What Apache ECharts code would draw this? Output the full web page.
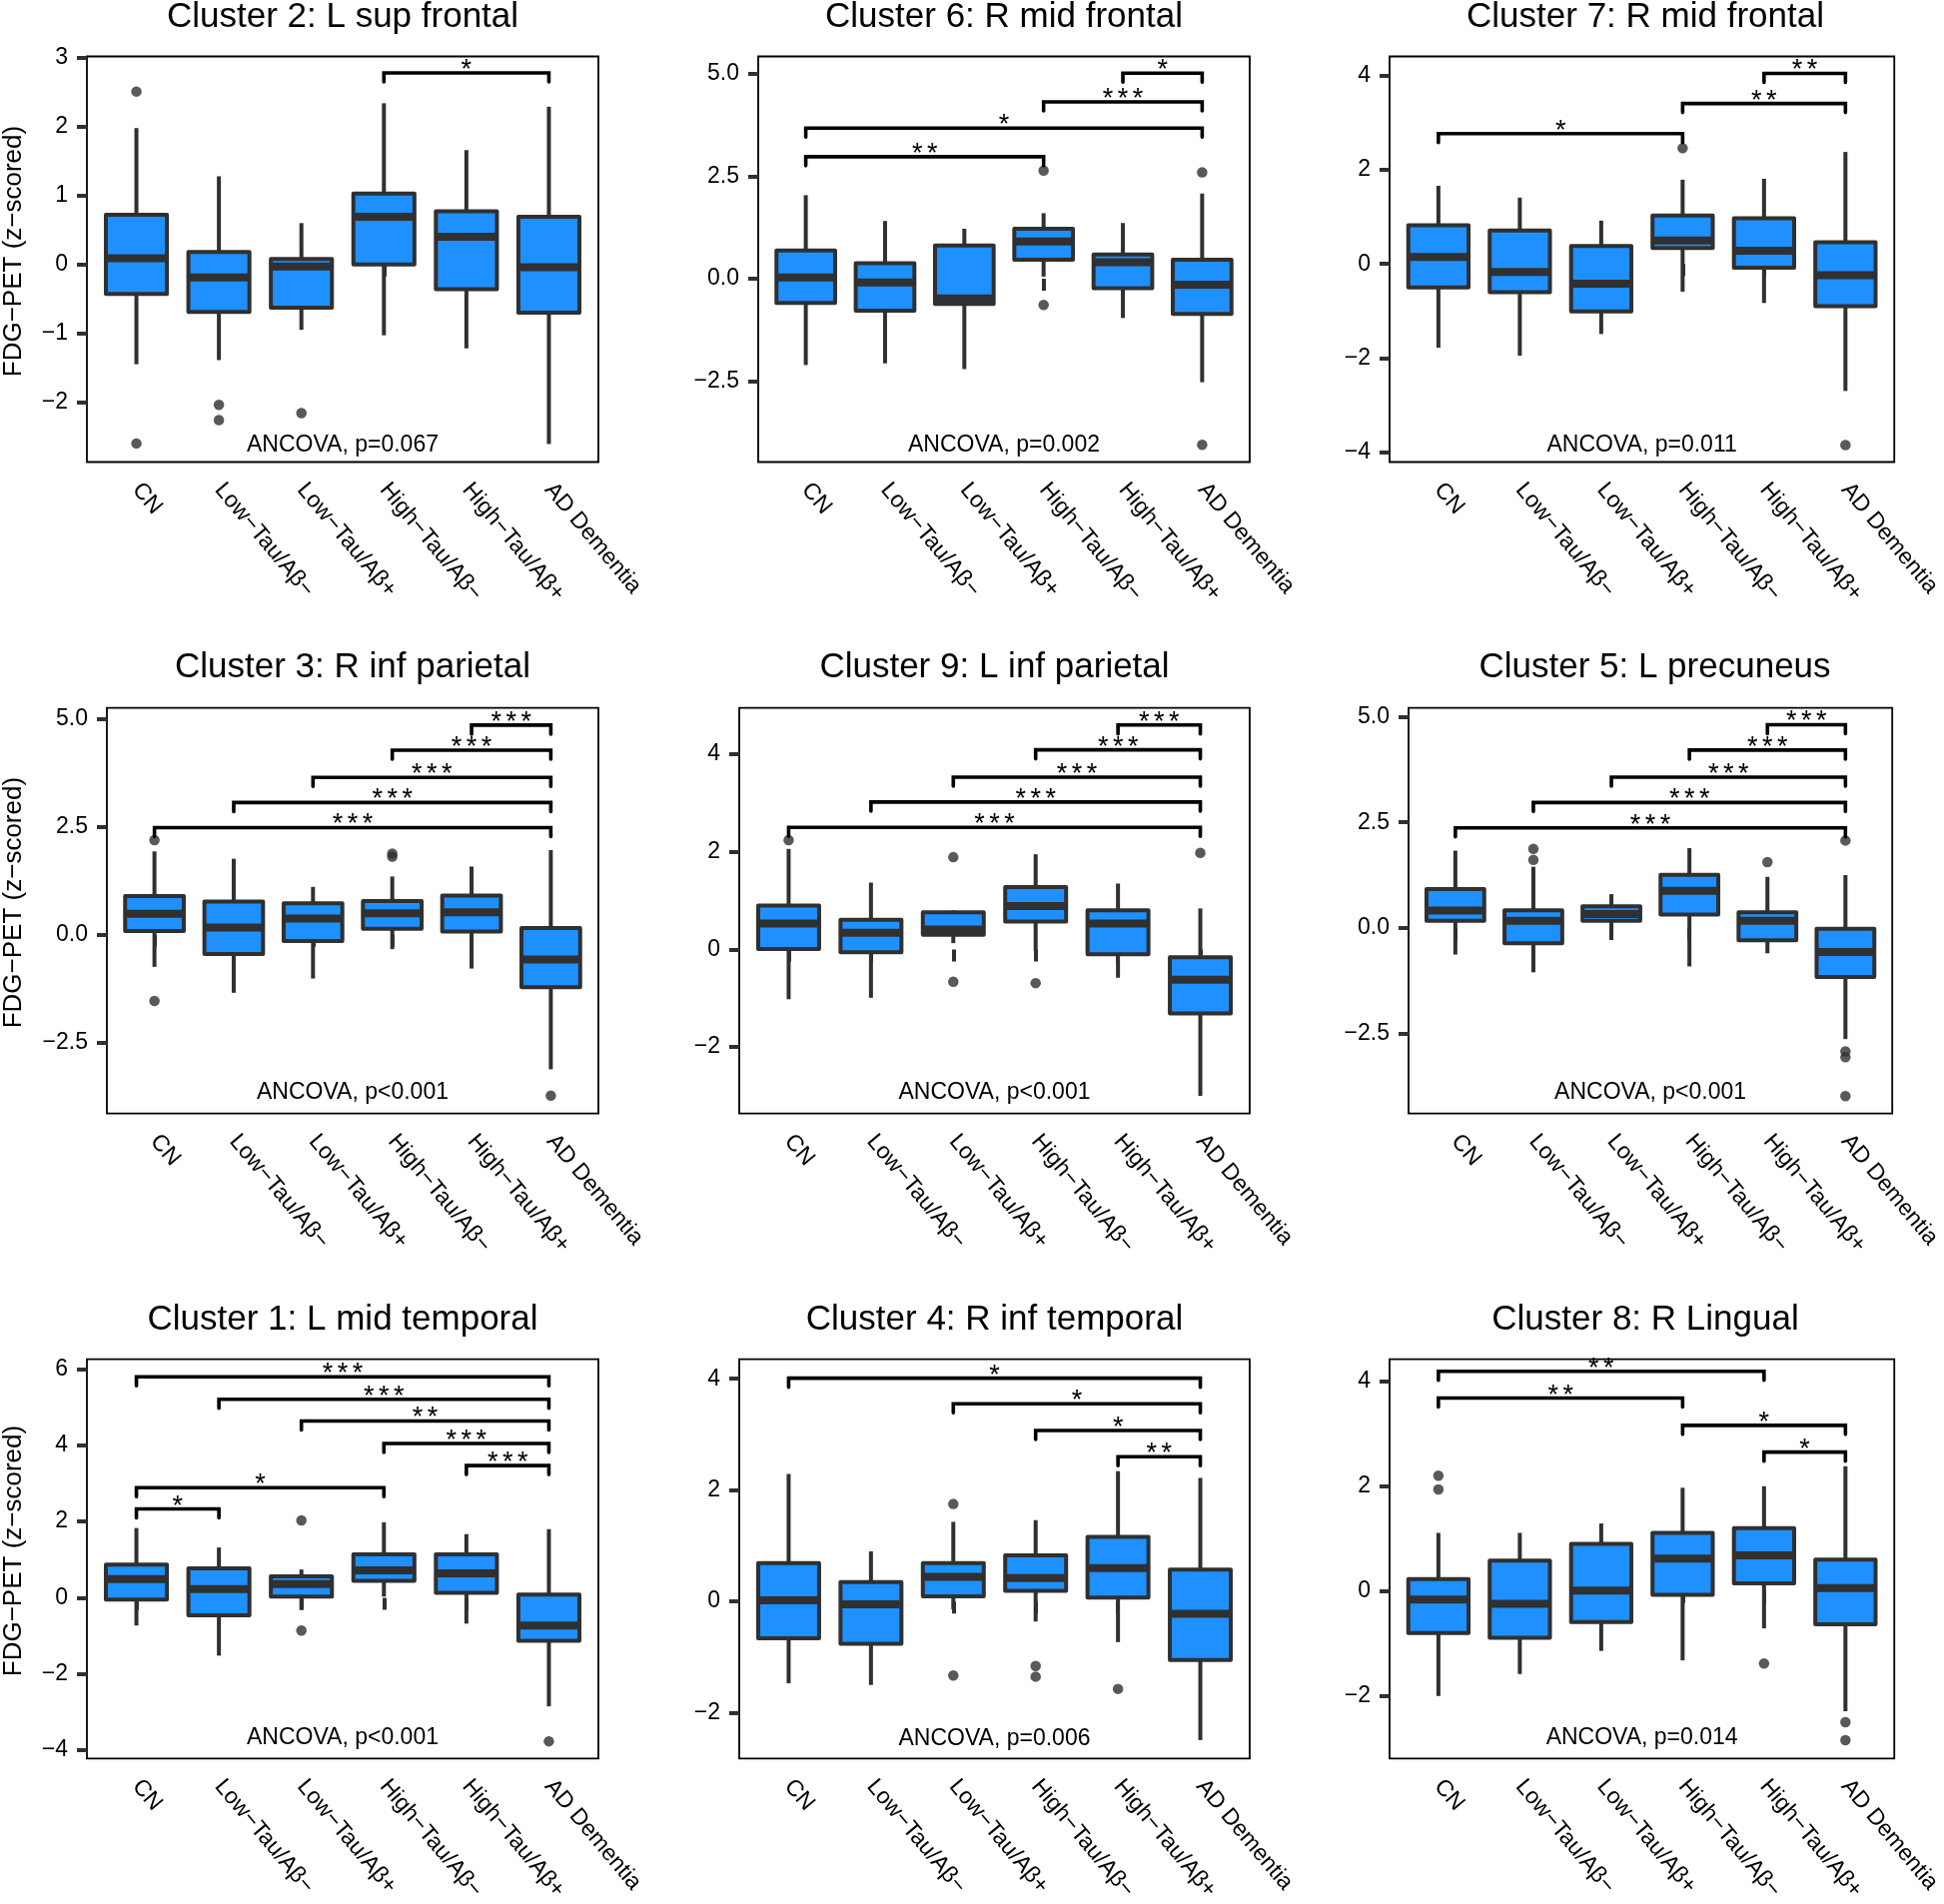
<!DOCTYPE html>
<html><head><meta charset="utf-8">
<script src="https://cdn.jsdelivr.net/npm/echarts@6/dist/echarts.min.js"></script>
<style>html,body{margin:0;padding:0;background:#fff}#c{width:1946px;height:1906px}</style>
</head><body><div id="c"></div>
<script>
// ---------------- DATA ----------------
const categories = ['CN', 'Low\u2212Tau/A\u03b2\u2212', 'Low\u2212Tau/A\u03b2+', 'High\u2212Tau/A\u03b2\u2212', 'High\u2212Tau/A\u03b2+', 'AD Dementia'];
const titles = ['Cluster 2: L sup frontal', 'Cluster 6: R mid frontal', 'Cluster 7: R mid frontal',
  'Cluster 3: R inf parietal', 'Cluster 9: L inf parietal', 'Cluster 5: L precuneus',
  'Cluster 1: L mid temporal', 'Cluster 4: R inf temporal', 'Cluster 8: R Lingual'];
const yAxisTitle = 'FDG\u2212PET (z\u2212scored)';
const ancovaText = ['ANCOVA, p=0.067', 'ANCOVA, p=0.002', 'ANCOVA, p=0.011', 'ANCOVA, p<0.001', 'ANCOVA, p<0.001',
  'ANCOVA, p<0.001', 'ANCOVA, p<0.001', 'ANCOVA, p=0.006', 'ANCOVA, p=0.014'];
const ancovaY = [-2.63, -4.07, -3.86, -3.65, -2.93, -3.90, -3.69, -2.46, -2.80];
const yMin = [-2.87, -4.48, -4.21, -4.13, -3.36, -4.39, -4.22, -2.82, -3.19];
const yMax = [3.02, 5.43, 4.41, 5.25, 4.95, 5.21, 6.26, 4.35, 4.42];

const yTicks1 = [-2, -1, 0, 1, 2, 3];      const yTickLabels1 = ['\u22122', '\u22121', '0', '1', '2', '3'];
const yTicks2 = [-2.5, 0, 2.5, 5];         const yTickLabels2 = ['\u22122.5', '0.0', '2.5', '5.0'];
const yTicks3 = [-4, -2, 0, 2, 4];         const yTickLabels3 = ['\u22124', '\u22122', '0', '2', '4'];
const yTicks4 = [-2.5, 0, 2.5, 5];         const yTickLabels4 = ['\u22122.5', '0.0', '2.5', '5.0'];
const yTicks5 = [-2, 0, 2, 4];             const yTickLabels5 = ['\u22122', '0', '2', '4'];
const yTicks6 = [-2.5, 0, 2.5, 5];         const yTickLabels6 = ['\u22122.5', '0.0', '2.5', '5.0'];
const yTicks7 = [-4, -2, 0, 2, 4, 6];      const yTickLabels7 = ['\u22124', '\u22122', '0', '2', '4', '6'];
const yTicks8 = [-2, 0, 2, 4];             const yTickLabels8 = ['\u22122', '0', '2', '4'];
const yTicks9 = [-2, 0, 2, 4];             const yTickLabels9 = ['\u22122', '0', '2', '4'];

// [min, Q1, median, Q3, max] per category
const boxes1 = [[-1.45, -0.43, 0.09, 0.72, 1.98], [-1.39, -0.69, -0.19, 0.18, 1.28], [-0.95, -0.63, -0.03, 0.08, 0.60],
  [-1.03, 0.00, 0.69, 1.03, 2.34], [-1.22, -0.36, 0.40, 0.77, 1.66], [-2.61, -0.70, -0.04, 0.69, 2.29]];
const boxes2 = [[-2.11, -0.59, 0.03, 0.69, 2.04], [-2.07, -0.78, -0.09, 0.38, 1.41], [-2.21, -0.62, -0.48, 0.81, 1.22],
  [0.05, 0.46, 0.91, 1.22, 1.60], [-0.96, -0.23, 0.40, 0.59, 1.36], [-2.53, -0.86, -0.15, 0.46, 2.08]];
const boxes3 = [[-1.78, -0.50, 0.15, 0.82, 1.66], [-1.95, -0.60, -0.17, 0.71, 1.41], [-1.49, -1.01, -0.42, 0.38, 0.92],
  [-0.59, 0.34, 0.50, 1.03, 1.79], [-0.83, -0.08, 0.28, 0.97, 1.81], [-2.70, -0.90, -0.24, 0.46, 2.38]];
const boxes4 = [[-0.74, 0.09, 0.49, 0.90, 1.93], [-1.34, -0.44, 0.17, 0.77, 1.76], [-1.01, -0.14, 0.38, 0.73, 1.11],
  [-0.33, 0.14, 0.50, 0.78, 1.35], [-0.78, 0.08, 0.52, 0.91, 1.58], [-3.11, -1.21, -0.57, 0.16, 1.96]];
const boxes5 = [[-1.02, 0.01, 0.53, 0.90, 2.06], [-0.99, -0.06, 0.34, 0.61, 1.37], [0.13, 0.30, 0.41, 0.76, 0.80],
  [-0.03, 0.57, 0.89, 1.28, 1.95], [-0.58, -0.10, 0.53, 0.80, 1.35], [-3.00, -1.31, -0.62, -0.16, 0.84]];
const boxes6 = [[-0.63, 0.17, 0.41, 0.92, 1.83], [-1.05, -0.36, 0.17, 0.42, 1.45], [-0.18, 0.17, 0.33, 0.51, 0.80],
  [-0.91, 0.32, 0.88, 1.26, 1.89], [-0.60, -0.29, 0.17, 0.37, 1.21], [-2.63, -1.16, -0.57, -0.02, 1.25]];
const boxes7 = [[-0.73, -0.05, 0.49, 0.87, 1.83], [-1.52, -0.46, 0.23, 0.77, 1.32], [-0.32, 0.03, 0.36, 0.56, 0.74],
  [0.03, 0.44, 0.72, 1.14, 1.98], [-0.68, 0.13, 0.64, 1.14, 1.67], [-2.85, -1.13, -0.73, 0.08, 1.80]];
const boxes8 = [[-1.47, -0.66, 0.02, 0.69, 2.29], [-1.50, -0.76, -0.05, 0.35, 0.90], [-0.14, 0.09, 0.44, 0.69, 1.43],
  [-0.36, 0.19, 0.42, 0.83, 1.46], [-0.73, 0.07, 0.60, 1.16, 2.34], [-2.49, -1.05, -0.22, 0.57, 2.22]];
const boxes9 = [[-2.00, -0.80, -0.16, 0.23, 1.11], [-1.58, -0.89, -0.24, 0.58, 1.11], [-1.14, -0.59, 0.01, 0.90, 1.29],
  [-1.32, -0.07, 0.62, 1.11, 1.97], [-0.71, 0.15, 0.68, 1.20, 2.00], [-2.29, -0.63, 0.06, 0.60, 2.38]];

// outliers: [category (1-based), value]
const outliers1 = [[1, 2.51], [1, -2.60], [2, -2.04], [2, -2.26], [3, -2.16]];
const outliers2 = [[4, 2.64], [4, -0.64], [6, 2.60], [6, -4.06]];
const outliers3 = [[4, 2.46], [6, -3.85]];
const outliers4 = [[1, 2.19], [1, -1.53], [4, 1.88], [4, 1.81], [6, -3.72]];
const outliers5 = [[1, 2.24], [3, 1.89], [3, -0.66], [4, -0.69], [6, 1.98]];
const outliers6 = [[2, 1.61], [2, 1.87], [5, 1.56], [6, 2.07], [6, -2.92], [6, -3.06], [6, -3.98]];
const outliers7 = [[3, 2.03], [3, -0.86], [6, -3.77]];
const outliers8 = [[3, 1.75], [3, -1.33], [4, -1.16], [4, -1.35], [5, -1.57]];
const outliers9 = [[1, 2.20], [1, 1.94], [5, -1.38], [6, -2.50], [6, -2.84]];

// significance brackets: [from category, to category, y, label]
const brackets1 = [[4, 6, 2.78, '*']];
const brackets2 = [[1, 4, 2.98, '**'], [1, 6, 3.68, '*'], [4, 6, 4.32, '***'], [5, 6, 5.02, '*']];
const brackets3 = [[1, 4, 2.77, '*'], [4, 6, 3.41, '**'], [5, 6, 4.05, '**']];
const brackets4 = [[1, 6, 2.48, '***'], [2, 6, 3.06, '***'], [3, 6, 3.64, '***'], [4, 6, 4.27, '***'], [5, 6, 4.85, '***']];
const brackets5 = [[1, 6, 2.50, '***'], [2, 6, 3.02, '***'], [3, 6, 3.53, '***'], [4, 6, 4.09, '***'], [5, 6, 4.60, '***']];
const brackets6 = [[1, 6, 2.37, '***'], [2, 6, 2.97, '***'], [3, 6, 3.57, '***'], [4, 6, 4.21, '***'], [5, 6, 4.81, '***']];
const brackets7 = [[1, 2, 2.33, '*'], [1, 4, 2.89, '*'], [5, 6, 3.47, '***'], [4, 6, 4.05, '***'], [3, 6, 4.64, '**'], [2, 6, 5.21, '***'], [1, 6, 5.80, '***']];
const brackets8 = [[1, 6, 4.01, '*'], [3, 6, 3.55, '*'], [4, 6, 3.07, '*'], [5, 6, 2.60, '**']];
const brackets9 = [[1, 5, 4.19, '**'], [1, 4, 3.68, '**'], [4, 6, 3.16, '*'], [5, 6, 2.65, '*']];

// ---------------- LAYOUT / STYLE ----------------
const boxesAll = [boxes1, boxes2, boxes3, boxes4, boxes5, boxes6, boxes7, boxes8, boxes9];
const outliersAll = [outliers1, outliers2, outliers3, outliers4, outliers5, outliers6, outliers7, outliers8, outliers9];
const bracketsAll = [brackets1, brackets2, brackets3, brackets4, brackets5, brackets6, brackets7, brackets8, brackets9];
const yTicksAll = [yTicks1, yTicks2, yTicks3, yTicks4, yTicks5, yTicks6, yTicks7, yTicks8, yTicks9];
const yTickLabelsAll = [yTickLabels1, yTickLabels2, yTickLabels3, yTickLabels4, yTickLabels5, yTickLabels6, yTickLabels7, yTickLabels8, yTickLabels9];

const FONT = "'Liberation Sans', Arial, Helvetica, sans-serif";
const gridLayout = [
  {left: 87, top: 56.5, width: 512, height: 406},
  {left: 759, top: 56.5, width: 492, height: 406},
  {left: 1391, top: 56.5, width: 512, height: 406},
  {left: 107, top: 708.6, width: 492, height: 406},
  {left: 740, top: 708.6, width: 511, height: 406},
  {left: 1410, top: 708.6, width: 493, height: 406},
  {left: 87, top: 1360.7, width: 512, height: 407},
  {left: 740, top: 1360.7, width: 511, height: 407},
  {left: 1391, top: 1360.7, width: 512, height: 407}
];
const titleTops = [-0.5, -0.5, -0.5, 651, 651, 651, 1304, 1304, 1304];
const DARK = '#303030';
const FILL = '#1E90FF';

const option = {
  animation: false,
  backgroundColor: '#ffffff',
  title: [], grid: [], xAxis: [], yAxis: [], series: []
};

for (let i = 0; i < 9; i++) {
  const g = gridLayout[i];
  option.grid.push({left: g.left, top: g.top, width: g.width, height: g.height, show: true,
    borderColor: '#000', borderWidth: 1.8, backgroundColor: 'transparent', containLabel: false});
  option.title.push({text: titles[i], left: g.left + g.width / 2, top: titleTops[i], textAlign: 'center', padding: 0,
    textStyle: {fontSize: 35, fontWeight: 'normal', color: '#000', fontFamily: FONT}});
  const cats = [1, 2, 3, 4, 5, 6];
  option.xAxis.push({
    gridIndex: i, type: 'value', min: 0.4, max: 6.6,
    splitLine: {show: false}, axisLine: {show: false},
    axisTick: {show: true, customValues: cats, length: 12, lineStyle: {color: DARK, width: 4}},
    axisLabel: {show: true, customValues: cats, rotate: -50, margin: 24, fontSize: 23, color: '#000', fontFamily: FONT,
      formatter: v => categories[Math.round(v) - 1]}
  });
  const ticks = yTicksAll[i], tl = yTickLabelsAll[i];
  const ya = {
    gridIndex: i, type: 'value', min: yMin[i], max: yMax[i],
    splitLine: {show: false}, axisLine: {show: false},
    axisTick: {show: true, customValues: ticks, length: 10, lineStyle: {color: DARK, width: 4}},
    axisLabel: {show: true, customValues: ticks, margin: 19, fontSize: 23, color: '#000', fontFamily: FONT,
      formatter: v => { const k = ticks.findIndex(t => Math.abs(t - v) < 1e-9); return k >= 0 ? tl[k] : ''; }}
  };
  if (i % 3 === 0) {
    ya.name = yAxisTitle; ya.nameLocation = 'middle'; ya.nameRotate = 90; ya.nameGap = g.left - 27;
    ya.nameTextStyle = {fontSize: 26, color: '#000', fontFamily: FONT, padding: [0, 0, 0, 16]};
  }
  option.yAxis.push(ya);

  // boxes
  option.series.push({
    type: 'custom', xAxisIndex: i, yAxisIndex: i, z: 2,
    data: boxesAll[i].map((b, k) => [k + 1].concat(b)),
    encode: {x: 0, y: [1, 2, 3, 4, 5]},
    renderItem: (params, api) => {
      const x = api.value(0);
      const mn = api.value(1), q1 = api.value(2), md = api.value(3), q3 = api.value(4), mx = api.value(5);
      const hw = 0.37;
      const tlp = api.coord([x - hw, q3]), brp = api.coord([x + hw, q1]);
      const top = api.coord([x, mx]), bot = api.coord([x, mn]);
      const ml = api.coord([x - hw, md]), mr = api.coord([x + hw, md]);
      const ls = {stroke: DARK, lineWidth: 4, fill: null};
      return {type: 'group', children: [
        {type: 'line', shape: {x1: top[0], y1: top[1], x2: top[0], y2: tlp[1]}, style: ls},
        {type: 'line', shape: {x1: bot[0], y1: brp[1], x2: bot[0], y2: bot[1]}, style: ls},
        {type: 'rect', shape: {x: tlp[0], y: tlp[1], width: brp[0] - tlp[0], height: brp[1] - tlp[1]},
          style: {fill: FILL, stroke: DARK, lineWidth: 4, lineJoin: 'round'}},
        {type: 'line', shape: {x1: ml[0], y1: ml[1], x2: mr[0], y2: mr[1]}, style: {stroke: DARK, lineWidth: 8}}
      ]};
    }
  });
  // outliers
  option.series.push({
    type: 'scatter', xAxisIndex: i, yAxisIndex: i, z: 3, symbol: 'circle', symbolSize: 10.5,
    itemStyle: {color: DARK}, data: outliersAll[i]
  });
  // brackets
  const br = bracketsAll[i];
  option.series.push({
    type: 'custom', xAxisIndex: i, yAxisIndex: i, z: 4,
    data: br.map(b => [b[0], b[1], b[2]]),
    encode: {x: [0, 1], y: 2},
    renderItem: (params, api) => {
      const a = api.coord([api.value(0), api.value(2)]);
      const b = api.coord([api.value(1), api.value(2)]);
      const tip = 9;
      const label = br[params.dataIndex][3];
      const rich = label.split('').map(c => '{s|' + c + '}').join('');
      return {type: 'group', children: [
        {type: 'polyline', shape: {points: [[a[0], a[1] + tip], [a[0], a[1]], [b[0], b[1]], [b[0], b[1] + tip]]},
          style: {stroke: '#000', lineWidth: 3.6, fill: null, lineJoin: 'miter', lineCap: 'round'}},
        {type: 'text', x: (a[0] + b[0]) / 2, y: a[1] - 2.5,
          style: {text: rich, align: 'center', verticalAlign: 'middle', fill: '#000', fontSize: 27, fontFamily: FONT,
            rich: {s: {width: 15, align: 'center', fontSize: 27, fontFamily: FONT, fill: '#000'}}}}
      ]};
    }
  });
  // ANCOVA annotation
  option.series.push({
    type: 'custom', xAxisIndex: i, yAxisIndex: i, z: 4,
    data: [[3.5, ancovaY[i]]],
    encode: {x: 0, y: 1},
    renderItem: (params, api) => {
      const p = api.coord([api.value(0), api.value(1)]);
      return {type: 'text', x: p[0], y: p[1],
        style: {text: ancovaText[i], align: 'center', verticalAlign: 'middle', fill: '#000', fontSize: 23, fontFamily: FONT}};
    }
  });
}

const chart = echarts.init(document.getElementById('c'), null, {renderer: 'canvas', width: 1946, height: 1906});
chart.setOption(option);
</script></body></html>
